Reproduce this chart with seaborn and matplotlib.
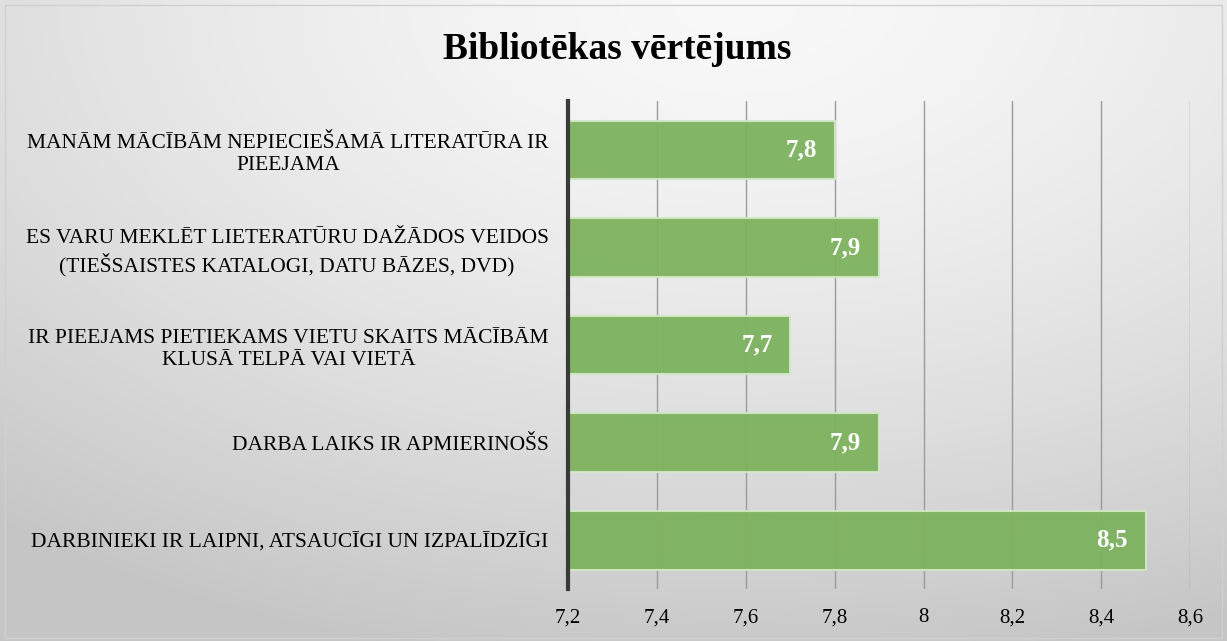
import numpy as np
import pandas as pd
import matplotlib
matplotlib.use("Agg")
import matplotlib.pyplot as plt
import seaborn as sns

# ======================
# Data
# ======================
categories = [
    "MANĀM MĀCĪBĀM NEPIECIEŠAMĀ LITERATŪRA IR\nPIEEJAMA",
    "ES VARU MEKLĒT LIETERATŪRU DAŽĀDOS VEIDOS\n(TIEŠSAISTES KATALOGI, DATU BĀZES, DVD)",
    "IR PIEEJAMS PIETIEKAMS VIETU SKAITS MĀCĪBĀM\nKLUSĀ TELPĀ VAI VIETĀ",
    "DARBA LAIKS IR APMIERINOŠS",
    "DARBINIEKI IR LAIPNI, ATSAUCĪGI UN IZPALĪDZĪGI",
]
scores = [7.8, 7.9, 7.7, 7.9, 8.5]
x_ticks = [7.2, 7.4, 7.6, 7.8, 8.0, 8.2, 8.4, 8.6]
title = "Bibliotēkas vērtējums"

df = pd.DataFrame({"Category": categories, "Score": scores})

sns.set_style("white")
plt.rcParams["font.family"] = ["Liberation Serif", "DejaVu Serif"]
plt.rcParams["text.color"] = "black"
plt.rcParams["xtick.color"] = "black"
plt.rcParams["ytick.color"] = "black"

fig = plt.figure(figsize=(12.27, 6.41), dpi=100)

# background gradient (light top-centre, grey towards corners)
bg = fig.add_axes([0, 0, 1, 1], zorder=-10)
gx, gy = np.meshgrid(np.linspace(0, 1, 400), np.linspace(0, 1, 200))
dist = np.sqrt(((gx - 0.6) * 1.0) ** 2 + ((gy - 0.0) * 0.9) ** 2)
shade = 0.975 - 0.2 * np.clip(dist / 0.95, 0, 1) ** 1.5
bg.imshow(np.dstack([shade] * 3), extent=[0, 1, 0, 1], aspect="auto", origin="upper")
bg.add_patch(plt.Rectangle((0.004, 0.004), 0.992, 0.988, fill=False,
                           edgecolor="#d0d0d0", lw=1, transform=bg.transAxes))
bg.axis("off")

ax = fig.add_axes([0.463, 0.081, 0.507, 0.761])
ax.set_facecolor("none")

sns.barplot(data=df, x="Score", y="Category", orient="h", color="#7db25e",
            saturation=1, alpha=0.95, edgecolor="#d2e8c4", linewidth=1.5,
            width=0.6, ax=ax, zorder=3)

ax.set_xlim(7.2, 8.6)
ax.set_ylim(4.5, -0.5)
ax.set_xticks(x_ticks)
ax.set_xticklabels([f"{v:g}".replace(".", ",") for v in x_ticks], fontsize=15)
ax.tick_params(axis="x", length=0, pad=24)
for lbl in ax.get_xticklabels():
    lbl.set_verticalalignment("baseline")
ax.tick_params(axis="y", length=0, pad=14, labelsize=15.5)
for lbl in ax.get_yticklabels():
    lbl.set_multialignment("center")
    lbl.set_linespacing(1.25)
ax.set_xlabel("")
ax.set_ylabel("")

ax.grid(axis="x", color="#9a9a9a", lw=1, zorder=0)
ax.grid(axis="y", visible=False)
for side in ["top", "right", "bottom"]:
    ax.spines[side].set_visible(False)
ax.spines["left"].set_color("#3a3a3a")
ax.spines["left"].set_linewidth(3)
ax.spines["left"].set_zorder(5)

for i, v in enumerate(scores):
    ax.text(v - 0.04, i, f"{v:g}".replace(".", ","), color="white",
            fontsize=18, fontweight="bold", ha="right", va="center", zorder=6)

fig.text(0.503, 0.922, title, ha="center", va="center", fontsize=27,
         fontweight="bold")

fig.savefig("out.png", dpi=100)
plt.close(fig)
